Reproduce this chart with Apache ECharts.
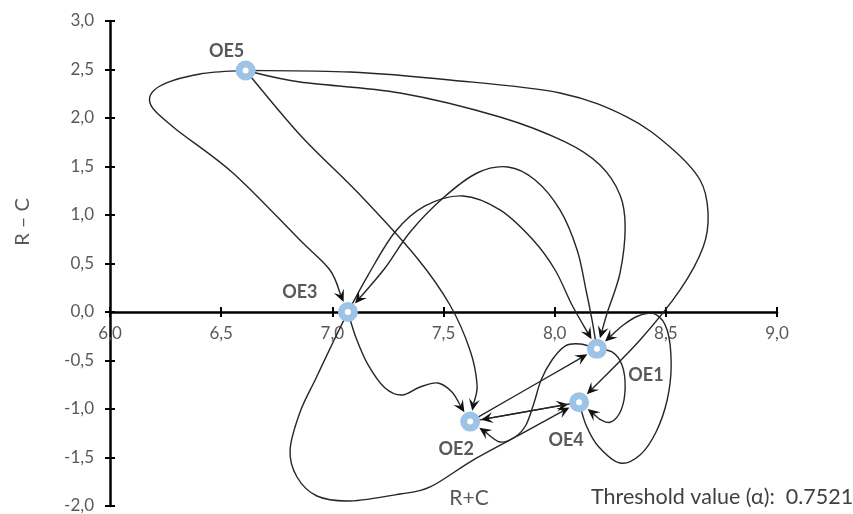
<!DOCTYPE html>
<html>
<head>
<meta charset="utf-8">
<script src="https://cdn.jsdelivr.net/npm/echarts@6/dist/echarts.min.js"></script>
<style>
  html, body { margin: 0; padding: 0; background: #fff; }
  #main { width: 853px; height: 514px; }
</style>
</head>
<body>
<div id="main"></div>
<script>
// factors and their prominence / relation values
const names = ['OE1', 'OE2', 'OE3', 'OE4', 'OE5'];
const rPlusC = [8.19, 7.62, 7.07, 8.11, 6.61];
const rMinusC = [-0.38, -1.13, 0.00, -0.93, 2.49];

// influence relations (index into names), above the threshold
const edgeFrom = [4, 4, 4, 4, 2, 0, 2, 2, 0, 0, 3, 1, 1, 3];
const edgeTo   = [2, 1, 3, 0, 0, 2, 1, 3, 1, 3, 0, 0, 3, 1];

const threshold = '0.7521';

// how each arrow is routed: bend points in axis units, one list per relation
const edgeBends = [
  [[6.405, 2.454], [6.225, 2.330], [6.18, 2.155], [6.284, 1.907], [6.553, 1.433], [6.854, 0.742], [6.989, 0.433]],
  [[6.855, 1.825], [7.125, 1.206], [7.381, 0.557], [7.529, 0.072], [7.619, -0.392], [7.651, -0.753]],
  [[7.080, 2.474], [7.529, 2.392], [8.024, 2.258], [8.326, 2.010], [8.519, 1.701], [8.654, 1.361], [8.690, 1.021], [8.668, 0.670], [8.564, 0.227], [8.384, -0.289]],
  [[6.855, 2.371], [7.305, 2.258], [7.754, 2.010], [8.047, 1.753], [8.204, 1.515], [8.294, 1.206], [8.317, 0.876], [8.294, 0.402], [8.236, -0.010]],
  [[7.161, 0.381], [7.282, 0.825], [7.417, 1.093], [7.588, 1.196], [7.754, 1.052], [7.903, 0.742], [8.002, 0.433], [8.078, 0.072]],
  [[8.168, -0.082], [8.141, 0.227], [8.101, 0.639], [8.024, 1.052], [7.912, 1.361], [7.790, 1.495], [7.651, 1.433], [7.498, 1.175], [7.350, 0.825], [7.237, 0.454]],
  [[7.107, -0.268], [7.161, -0.546], [7.237, -0.784], [7.314, -0.856], [7.395, -0.773], [7.475, -0.732], [7.538, -0.825]],
  [[7.008, -0.289], [6.927, -0.680], [6.855, -1.031], [6.810, -1.423], [6.841, -1.701], [6.931, -1.897], [7.080, -1.948], [7.305, -1.876], [7.440, -1.804], [7.633, -1.526], [7.858, -1.247], [7.979, -1.093]],
  [[8.114, -0.330], [8.047, -0.351], [7.988, -0.495], [7.939, -0.701], [7.907, -0.938], [7.871, -1.165], [7.822, -1.289], [7.754, -1.340]],
  [[8.258, -0.412], [8.303, -0.546], [8.317, -0.784], [8.299, -1.010], [8.254, -1.134], [8.209, -1.113]],
  [[8.141, -1.165], [8.195, -1.381], [8.294, -1.557], [8.384, -1.474], [8.456, -1.237], [8.506, -0.907], [8.524, -0.546], [8.506, -0.186], [8.452, -0.021], [8.375, -0.041], [8.303, -0.144]],
  [],
  [],
  []
];

const labelOffsets = [[49, 26], [-14, 28], [-48, -20], [-13, 38], [-19, -19]];

const comma = v => v.toFixed(1).replace('.', ',');
const font = 'Lato, "Open Sans", sans-serif';

function smoothPath(pts) {
  let d = 'M' + pts[0][0] + ' ' + pts[0][1];
  for (let i = 0; i < pts.length - 1; i++) {
    const p0 = pts[i - 1] || pts[i];
    const p1 = pts[i];
    const p2 = pts[i + 1];
    const p3 = pts[i + 2] || p2;
    const c1x = p1[0] + (p2[0] - p0[0]) / 6, c1y = p1[1] + (p2[1] - p0[1]) / 6;
    const c2x = p2[0] - (p3[0] - p1[0]) / 6, c2y = p2[1] - (p3[1] - p1[1]) / 6;
    d += ' C' + c1x + ' ' + c1y + ' ' + c2x + ' ' + c2y + ' ' + p2[0] + ' ' + p2[1];
  }
  return d;
}

function renderEdge(params, api) {
  const i = params.dataIndex;
  const start = api.coord([api.value(0), api.value(1)]);
  const end = api.coord([api.value(2), api.value(3)]);
  const pts = [start].concat(edgeBends[i].map(p => api.coord(p)));
  const prev = pts[pts.length - 1];
  let ux = end[0] - prev[0], uy = end[1] - prev[1];
  const len = Math.sqrt(ux * ux + uy * uy);
  ux /= len; uy /= len;
  const nx = -uy, ny = ux;
  const tip = [end[0] - ux * 11, end[1] - uy * 11];
  const L = 12, W = 5.5;
  const base = [tip[0] - ux * L * 0.6, tip[1] - uy * L * 0.6];
  pts.push(base);
  return {
    type: 'group',
    children: [
      {
        type: 'path',
        shape: { pathData: smoothPath(pts) },
        style: { fill: null, stroke: '#262626', lineWidth: 1.4 }
      },
      {
        type: 'polygon',
        shape: {
          points: [
            tip,
            [tip[0] - ux * L + nx * W, tip[1] - uy * L + ny * W],
            base,
            [tip[0] - ux * L - nx * W, tip[1] - uy * L - ny * W]
          ]
        },
        style: { fill: '#111', stroke: null }
      }
    ]
  };
}

const chart = echarts.init(document.getElementById('main'));

const tickStyle = { color: '#000', width: 2 };
const lineStyle = { color: '#000', width: 2.5 };
const labelStyle = { formatter: comma, color: '#595959', fontSize: 17, fontFamily: font };
const noAxis = { type: 'value', show: false };
const xRange = { type: 'value', min: 6, max: 9, interval: 0.5, splitLine: { show: false } };
const yRange = { type: 'value', min: -2, max: 3, interval: 0.5, splitLine: { show: false } };

chart.setOption({
  animation: false,
  backgroundColor: '#fff',
  // 0: data + R-C axis, 1: inner halves of R-C ticks,
  // 2: upper half down to R-C = 0 (R+C axis with labels), 3: lower half (upper halves of R+C ticks)
  grid: [
    { left: 110, right: 76, top: 21, bottom: 8, outerBoundsMode: 'none' },
    { left: 110, right: 76, top: 21, bottom: 8, outerBoundsMode: 'none' },
    { left: 110, right: 76, top: 21, bottom: 202, outerBoundsMode: 'none' },
    { left: 110, right: 76, top: 312, bottom: 8, outerBoundsMode: 'none' }
  ],
  xAxis: [
    Object.assign({}, xRange, { gridIndex: 0, show: false }),
    Object.assign({}, xRange, { gridIndex: 1, show: false }),
    Object.assign({}, xRange, {
      gridIndex: 2, position: 'bottom',
      axisLine: { onZero: false, lineStyle: lineStyle },
      axisTick: { length: 5, lineStyle: tickStyle },
      axisLabel: Object.assign({ margin: 13 }, labelStyle)
    }),
    Object.assign({}, xRange, {
      gridIndex: 3, position: 'top',
      axisLine: { show: false, onZero: false },
      axisTick: { length: 5, lineStyle: tickStyle },
      axisLabel: { show: false }
    })
  ],
  yAxis: [
    Object.assign({}, yRange, {
      gridIndex: 0, position: 'left',
      axisLine: { onZero: false, lineStyle: lineStyle },
      axisTick: { length: 5, lineStyle: tickStyle },
      axisLabel: Object.assign({ margin: 16 }, labelStyle)
    }),
    Object.assign({}, yRange, {
      gridIndex: 1, position: 'left',
      axisLine: { show: false, onZero: false },
      axisTick: { inside: true, length: 5, lineStyle: tickStyle },
      axisLabel: { show: false }
    }),
    Object.assign({}, noAxis, { gridIndex: 2 }),
    Object.assign({}, noAxis, { gridIndex: 3 })
  ],
  graphic: [
    {
      type: 'text', x: 23, y: 222, rotation: Math.PI / 2,
      style: { text: 'R – C', font: '20px ' + font, fill: '#595959', align: 'center', verticalAlign: 'middle' }
    },
    {
      type: 'text', x: 469, y: 498,
      style: { text: 'R+C', font: '21px ' + font, fill: '#595959', align: 'center', verticalAlign: 'middle' }
    },
    {
      type: 'text', x: 591, y: 497,
      style: { text: 'Threshold value (α):  ' + threshold, font: '21.5px ' + font, fill: '#404040', align: 'left', verticalAlign: 'middle' }
    }
  ],
  series: [
    {
      type: 'custom',
      coordinateSystem: 'cartesian2d',
      xAxisIndex: 0, yAxisIndex: 0,
      renderItem: renderEdge,
      encode: { x: [0, 2], y: [1, 3] },
      data: edgeFrom.map((f, i) => [rPlusC[f], rMinusC[f], rPlusC[edgeTo[i]], rMinusC[edgeTo[i]]]),
      clip: false,
      silent: true,
      z: 2
    },
    {
      type: 'scatter',
      xAxisIndex: 0, yAxisIndex: 0,
      symbol: 'circle',
      symbolSize: 13,
      itemStyle: { color: '#fff', borderColor: '#9DC3E6', borderWidth: 7, opacity: 1 },
      label: {
        show: true, position: 'inside', formatter: '{b}',
        color: '#595959', fontWeight: 'bold', fontSize: 18, fontFamily: font
      },
      emphasis: { disabled: true },
      data: names.map((n, i) => ({
        name: n,
        value: [rPlusC[i], rMinusC[i]],
        label: { offset: labelOffsets[i] }
      })),
      z: 5
    }
  ]
});
</script>
</body>
</html>
